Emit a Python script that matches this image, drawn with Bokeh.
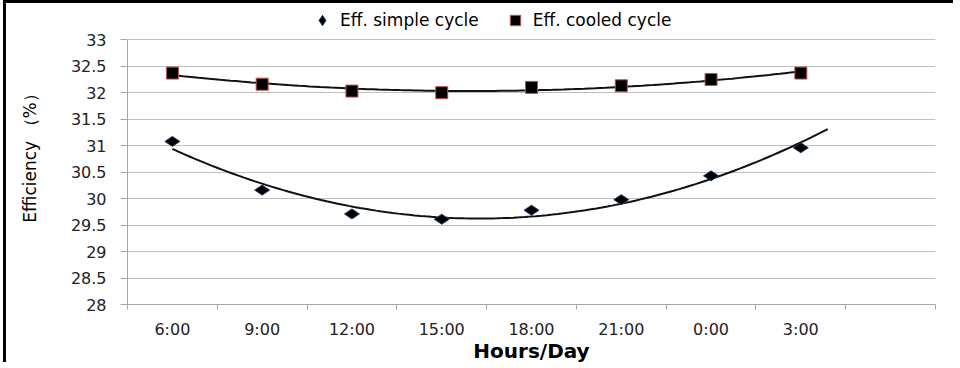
import numpy as np
from bokeh.plotting import figure
from bokeh.models import Range1d, FixedTicker, Legend, LegendItem
from bokeh.embed import file_html
from bokeh.resources import INLINE

# ---- data ----
hours = ["6:00", "9:00", "12:00", "15:00", "18:00", "21:00", "0:00", "3:00"]
eff_simple = [31.08, 30.16, 29.71, 29.61, 29.78, 29.98, 30.43, 30.96]
eff_cooled = [32.37, 32.16, 32.03, 32.00, 32.10, 32.13, 32.25, 32.37]
y_ticks = [28, 28.5, 29, 29.5, 30, 30.5, 31, 31.5, 32, 32.5, 33]
y_tick_labels = ["28", "28.5", "29", "29.5", "30", "30.5", "31", "31.5", "32", "32.5", "33"]
y_min, y_max = 28, 33
n_slots = 9            # 8 hour categories + one empty slot on the axis
simple_forecast = 0.3  # trendline of simple cycle extended forward

# category centres
xpos = [i + 0.5 for i in range(len(hours))]

# 2nd-order polynomial trendlines fitted to the data
c_simple = np.polyfit(xpos, eff_simple, 2)
c_cooled = np.polyfit(xpos, eff_cooled, 2)
xs_simple = np.linspace(xpos[0], xpos[-1] + simple_forecast, 120)
xs_cooled = np.linspace(xpos[0], xpos[-1], 120)

GRID = "#bfbfbf"
AXIS = "#a6a6a6"

# frame extends above the 33 line to hold the legend (axis line bounded to 28..33)
PX_PER_UNIT = 53.08
TOP_PAD = 36.3
y_top = y_max + TOP_PAD / PX_PER_UNIT

p = figure(width=950, height=362, x_range=Range1d(0, n_slots), y_range=Range1d(y_min, y_top),
           output_backend="svg", toolbar_location=None,
           min_border_left=121, min_border_right=21, min_border_top=0, min_border_bottom=58)
p.styles = {"border-left": "3px solid #000", "border-top": "3px solid #000",
            "margin-left": "3px"}
p.outline_line_color = None
p.xgrid.visible = False
p.ygrid.grid_line_color = GRID
p.ygrid.grid_line_width = 1

# x axis
p.xaxis.ticker = FixedTicker(ticks=xpos, minor_ticks=list(range(n_slots + 1)))
p.xaxis.major_label_overrides = {x: h for x, h in zip(xpos, hours)}
p.xaxis.major_tick_out = 0
p.xaxis.major_tick_in = 0
p.xaxis.minor_tick_out = 5
p.xaxis.minor_tick_in = 0
p.xaxis.minor_tick_line_color = AXIS
p.xaxis.axis_line_color = AXIS
p.xaxis.major_label_standoff = 10
p.xaxis.major_label_text_font = "DejaVu Sans"
p.xaxis.major_label_text_font_size = "16px"
p.xaxis.major_label_text_color = "#222222"
p.xaxis.axis_label = "Hours/Day"
p.xaxis.axis_label_text_font = "DejaVu Sans"
p.xaxis.axis_label_text_font_style = "bold"
p.xaxis.axis_label_text_font_size = "20px"
p.xaxis.axis_label_text_color = "#000000"
p.xaxis.axis_label_standoff = -3

# y axis
p.yaxis.ticker = FixedTicker(ticks=y_ticks)
p.yaxis.bounds = (y_min, y_max)
p.yaxis.major_label_overrides = {t: l for t, l in zip(y_ticks, y_tick_labels)}
p.yaxis.major_tick_out = 7
p.yaxis.major_tick_in = 0
p.yaxis.minor_tick_line_color = None
p.yaxis.major_tick_line_color = AXIS
p.yaxis.axis_line_color = AXIS
p.yaxis.major_label_standoff = 14
p.yaxis.major_label_text_font = "DejaVu Sans"
p.yaxis.major_label_text_font_size = "16px"
p.yaxis.major_label_text_color = "#222222"
p.yaxis.axis_label = "Efficiency （%）"
p.yaxis.axis_label_text_font = "DejaVu Sans"
p.yaxis.axis_label_text_font_style = "normal"
p.yaxis.axis_label_text_font_size = "17px"
p.yaxis.axis_label_text_color = "#000000"
p.yaxis.axis_label_standoff = 28

# trendlines
p.line(xs_simple, np.polyval(c_simple, xs_simple), line_color="#111111", line_width=2)
p.line(xs_cooled, np.polyval(c_cooled, xs_cooled), line_color="#111111", line_width=2)

# markers
r_simple = p.scatter(xpos, eff_simple, marker="diamond", angle=np.pi / 2, size=15,
                     fill_color="#000000", line_color="#1f3a60", line_width=1)
r_cooled = p.scatter(xpos, eff_cooled, marker="square", size=12,
                     fill_color="#000000", line_color="#c0504d", line_width=1)

legend = Legend(items=[LegendItem(label="Eff. simple cycle", renderers=[r_simple]),
                       LegendItem(label="Eff. cooled cycle", renderers=[r_cooled])],
                location=(182, 271), orientation="horizontal",
                border_line_color=None, background_fill_alpha=0,
                padding=0, margin=0, spacing=23, glyph_width=26, glyph_height=26,
                label_standoff=5, label_text_font="DejaVu Sans",
                label_text_font_size="17px", label_text_color="#000000")
p.add_layout(legend)

open("out.html", "w").write(file_html(p, INLINE))
